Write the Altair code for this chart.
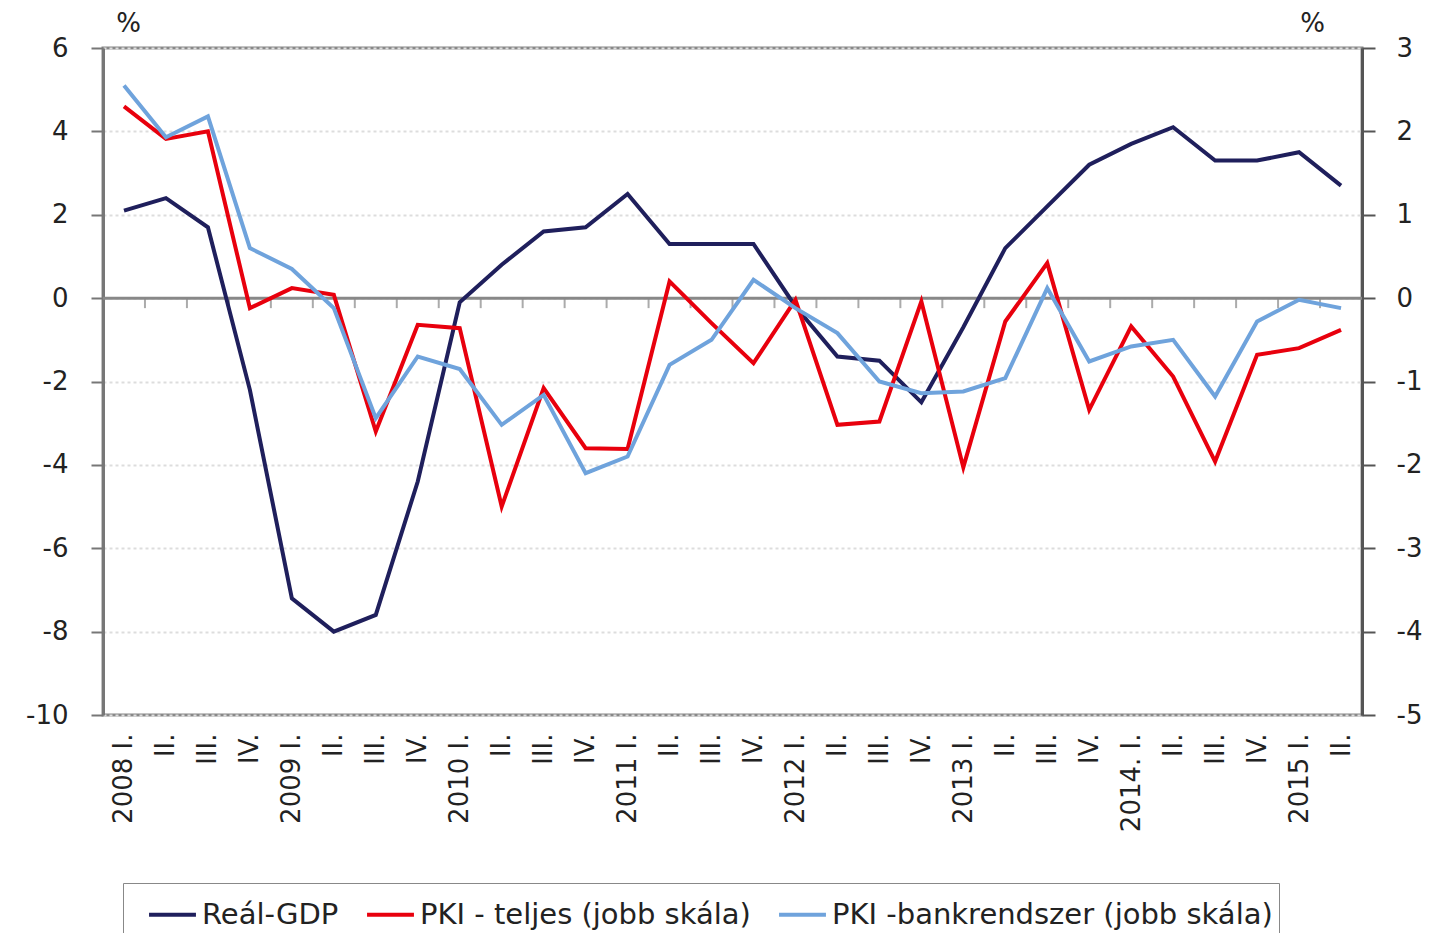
import altair as alt
import pandas as pd

labels = ["2008 I.", "II.", "III.", "IV.",
          "2009 I.", "II.", "III.", "IV.",
          "2010 I.", "II.", "III.", "IV.",
          "2011 I.", "II.", "III.", "IV.",
          "2012 I.", "II.", "III.", "IV.",
          "2013 I.", "II.", "III.", "IV.",
          "2014. I.", "II.", "III.", "IV.",
          "2015 I.", "II."]

gdp = [2.1, 2.4, 1.7, -2.2, -7.2, -8.0, -7.6, -4.4, -0.1, 0.8,
       1.6, 1.7, 2.5, 1.3, 1.3, 1.3, -0.2, -1.4, -1.5, -2.5,
       -0.7, 1.2, 2.2, 3.2, 3.7, 4.1, 3.3, 3.3, 3.5, 2.7]

pki_total = [2.3, 1.91, 2.0, -0.12, 0.12, 0.04, -1.6, -0.32, -0.36, -2.5,
             -1.08, -1.8, -1.81, 0.2, -0.3, -0.78, -0.02, -1.52, -1.48, -0.04,
             -2.03, -0.28, 0.42, -1.34, -0.34, -0.94, -1.96, -0.68, -0.6, -0.38]

pki_bank = [2.55, 1.93, 2.18, 0.6, 0.35, -0.12, -1.44, -0.7, -0.85, -1.52,
            -1.16, -2.1, -1.9, -0.8, -0.5, 0.22, -0.12, -0.42, -1.0, -1.14,
            -1.12, -0.96, 0.12, -0.76, -0.58, -0.5, -1.18, -0.28, -0.02, -0.12]

series_names = ["Reál-GDP", "PKI - teljes (jobb skála)", "PKI -bankrendszer (jobb skála)"]
series_colors = ["#1f1f5c", "#e8000d", "#6fa3dc"]

left_ticks = [-10, -8, -6, -4, -2, 0, 2, 4, 6]
right_ticks = [-5, -4, -3, -2, -1, 0, 1, 2, 3]

n = len(labels)
idx = list(range(n))

df_left = pd.DataFrame({"idx": idx, "value": gdp, "series": series_names[0]})
df_right = pd.concat([
    pd.DataFrame({"idx": idx, "value": pki_total, "series": series_names[1]}),
    pd.DataFrame({"idx": idx, "value": pki_bank, "series": series_names[2]}),
])
df_bounds = pd.DataFrame({"idx": [i + 0.5 for i in idx[:-1]], "value": 0})
df_zero = pd.DataFrame({"value": [0]})

label_expr = "[" + ",".join("'" + l + "'" for l in labels) + "][datum.value]"
num_expr = "datum.value < 0 ? '-' + abs(datum.value) : '' + datum.value"

FONT = "DejaVu Sans"
TXT = "#222222"

x_scale = alt.Scale(domain=[-0.5, n - 0.5], nice=False, zero=False)
x_axis = alt.Axis(values=idx, labelExpr=label_expr, labelAngle=-90, labelFontSize=26,
                  labelFont=FONT, labelColor=TXT, labelPadding=18, ticks=False,
                  domain=False, grid=False, title=None, labelOverlap=False)
X = alt.X("idx:Q", scale=x_scale, axis=x_axis)

color = alt.Color("series:N",
                  scale=alt.Scale(domain=series_names, range=series_colors),
                  sort=series_names,
                  legend=alt.Legend(title=None, orient="none", legendX=20, legendY=835,
                                    direction="horizontal", symbolType="stroke",
                                    symbolStrokeWidth=4, symbolSize=2200,
                                    labelFontSize=29, labelFont=FONT, labelColor=TXT,
                                    labelLimit=700, columnPadding=8, symbolOffset=18,
                                    labelOffset=4,
                                    padding=6, strokeColor="#888888",
                                    fillColor="white", cornerRadius=0,
                                    values=series_names))

left_scale = alt.Scale(domain=[-10, 6], nice=False)
left_axis = alt.Axis(values=left_ticks, labelExpr=num_expr, labelFontSize=26, labelFont=FONT,
                     labelColor=TXT, tickSize=12, tickColor="#777777",
                     tickWidth=2, domainColor="#777777", domainWidth=3,
                     labelPadding=23, grid=True, gridColor="#dddddd",
                     gridDash=[3, 3], gridWidth=2,
                     title="%", titleAngle=0, titleFontSize=26, titleFont=FONT,
                     titleFontWeight="normal", titleColor=TXT,
                     titleX=25, titleY=-12, titleAlign="center",
                     titleBaseline="bottom")
Y_left = alt.Y("value:Q", scale=left_scale, axis=left_axis)

left_line = alt.Chart(df_left).mark_line(strokeWidth=4).encode(
    x=X, y=Y_left, color=color,
)

zero_rule = alt.Chart(df_zero).mark_rule(color="#888888", strokeWidth=3).encode(
    y=Y_left,
)

bound_ticks = alt.Chart(df_bounds).mark_tick(orient="vertical", size=10, thickness=2,
                                             color="#888888", yOffset=5).encode(
    x=X, y=Y_left,
)

left_layer = alt.layer(zero_rule, bound_ticks, left_line)

right_axis = alt.Axis(orient="right", values=right_ticks, labelExpr=num_expr, labelFontSize=26,
                      labelFont=FONT, labelColor=TXT, tickSize=13,
                      tickColor="#555555", tickWidth=2, domainColor="#555555",
                      domainWidth=3, labelPadding=21, grid=False,
                      title="%", titleAngle=0, titleFontSize=26, titleFont=FONT,
                      titleFontWeight="normal", titleColor=TXT,
                      titleX=-50, titleY=-12, titleAlign="center",
                      titleBaseline="bottom")

right_layer = alt.Chart(df_right).mark_line(strokeWidth=4).encode(
    x=X,
    y=alt.Y("value:Q", scale=alt.Scale(domain=[-5, 3], nice=False), axis=right_axis),
    color=color,
    order=alt.Order("idx:Q"),
)

chart = alt.layer(left_layer, right_layer).resolve_scale(y="independent").properties(
    width=1259, height=667,
    background="white",
    autosize=alt.AutoSizeParams(type="none"),
    padding={"left": 95, "top": 40, "right": 66, "bottom": 218},
).configure_view(stroke="#888888", strokeWidth=3)

chart.save("out.html", embed_options={"renderer": "svg", "actions": False})
